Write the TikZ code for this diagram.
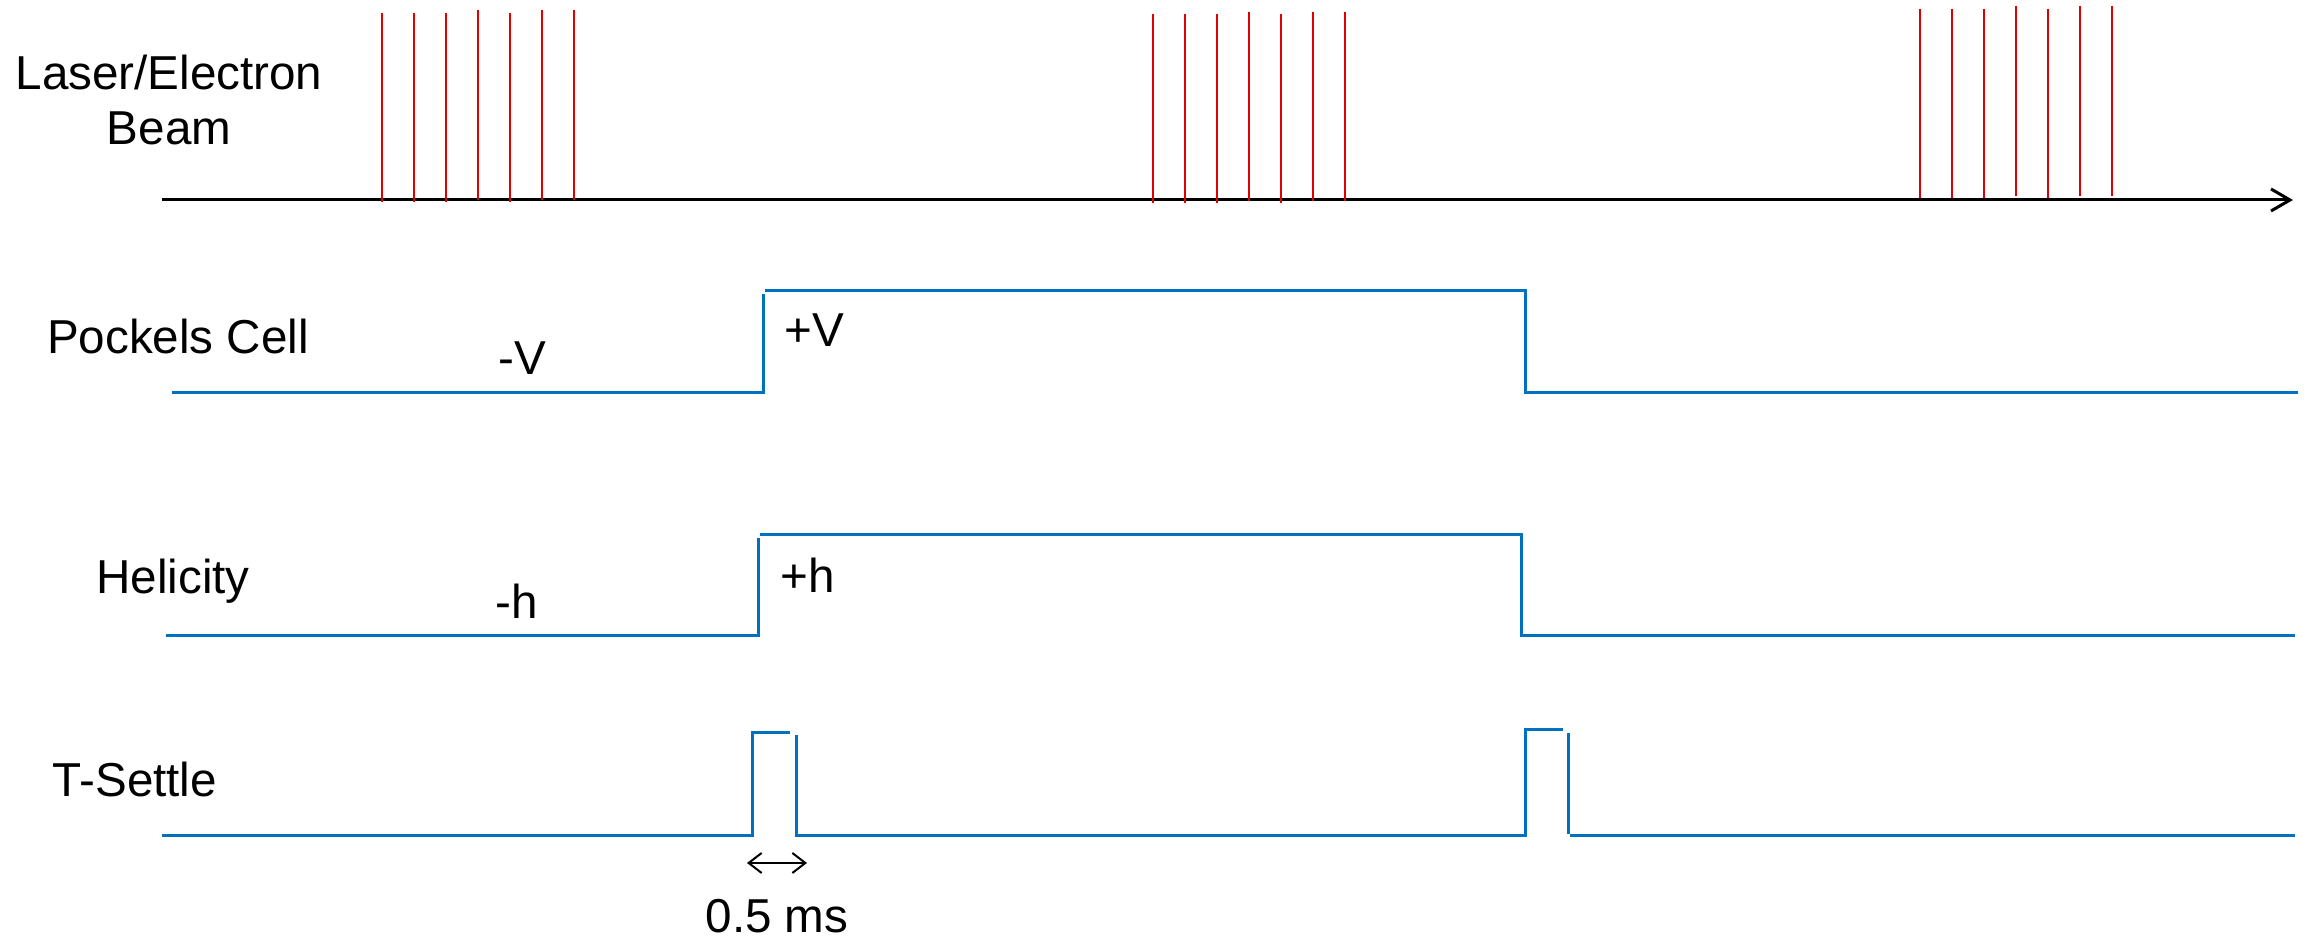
\documentclass[tikz,border=0pt]{standalone}
\usepackage{fontspec}
\setmainfont{Liberation Sans}
\usetikzlibrary{arrows.meta}
\definecolor{sigblue}{HTML}{0070C0}
\definecolor{beamred}{HTML}{E00000}
\begin{document}
\begin{tikzpicture}[x=0.25pt,y=-0.25pt,
  lbl/.style={font=\fontsize{11.9}{13.75}\selectfont, inner sep=0pt, align=center},
  sig/.style={draw=sigblue, line width=0.75pt},
  pulse/.style={draw=beamred, line width=0.45pt},
  axis/.style={draw=black, line width=0.75pt, -{Straight Barb[length=4.75pt,width=5.5pt]}},
  dimarrow/.style={draw=black, line width=0.5pt, {Straight Barb[length=3.25pt,width=5pt]}-{Straight Barb[length=3.25pt,width=5pt]}}
]
\useasboundingbox (0,0) rectangle (2307,937);

% labels
\node[lbl] (lbeam) at (169,100) {Laser/Electron\\Beam};
\node[lbl] (lpc) at (178,337) {Pockels Cell};
\node[lbl] (lmv) at (522,358) {-V};
\node[lbl] (lpv) at (814,330) {+V};
\node[lbl] (lhel) at (173,581) {Helicity};
\node[lbl] (lmh) at (517,601) {-h};
\node[lbl] (lph) at (808,575) {+h};
\node[lbl] (lts) at (135,780) {T-Settle};
\node[lbl] (lms) at (777,916) {0.5 ms};

% time axis
\coordinate (ax0) at (162,200);
\coordinate (ax1) at (2293,200);
\draw[axis] (ax0) -- (ax1);

% beam pulses
\foreach \x/\t/\b [count=\i] in {
  382/13/202, 414/13/202, 446/13/202, 478/10/200, 510/13/202, 542/10/200, 574/10/200,
  1153/14/203, 1185/14/203, 1217/14/203, 1249/12/201, 1281/14/203, 1313/12/201, 1345/12/201,
  1920/9/198, 1952/9/198, 1984/9/198, 2016/6/196, 2048/9/198, 2080/6/196, 2112/6/196}{
  \coordinate (pt\i) at (\x,\t);
  \coordinate (pb\i) at (\x,\b);
  \draw[pulse] (pt\i) -- (pb\i);
}

% Pockels cell
\coordinate (pc0) at (172,393);
\coordinate (pc1) at (763,393);
\coordinate (pc2) at (763,294);
\coordinate (pc3) at (765,291);
\coordinate (pc4) at (1525,291);
\coordinate (pc5) at (1525,393);
\coordinate (pc6) at (2298,393);
\draw[sig] (pc0) -- (pc1) -- (pc2);
\draw[sig] (pc3) -- (pc4) -- (pc5) -- (pc6);

% Helicity
\coordinate (h0) at (166,636);
\coordinate (h1) at (758,636);
\coordinate (h2) at (758,538);
\coordinate (h3) at (760,535);
\coordinate (h4) at (1521,535);
\coordinate (h5) at (1521,636);
\coordinate (h6) at (2295,636);
\draw[sig] (h0) -- (h1) -- (h2);
\draw[sig] (h3) -- (h4) -- (h5) -- (h6);

% T-Settle
\coordinate (t0) at (162,836);
\coordinate (t1) at (752,836);
\coordinate (t2) at (752,733);
\coordinate (t3) at (790,733);
\coordinate (t4) at (796,735);
\coordinate (t5) at (796,836);
\coordinate (t6) at (1525,836);
\coordinate (t7) at (1525,730);
\coordinate (t8) at (1563,730);
\coordinate (t9) at (1568,733);
\coordinate (t10) at (1568,834);
\coordinate (t11) at (1570,836);
\coordinate (t12) at (2295,836);
\draw[sig] (t0) -- (t1) -- (t2) -- (t3);
\draw[sig] (t4) -- (t5) -- (t6) -- (t7) -- (t8);
\draw[sig] (t9) -- (t10);
\draw[sig] (t11) -- (t12);

% 0.5 ms dimension
\coordinate (d0) at (747,863);
\coordinate (d1) at (807,863);
\draw[dimarrow] (d0) -- (d1);
\end{tikzpicture}
\end{document}
